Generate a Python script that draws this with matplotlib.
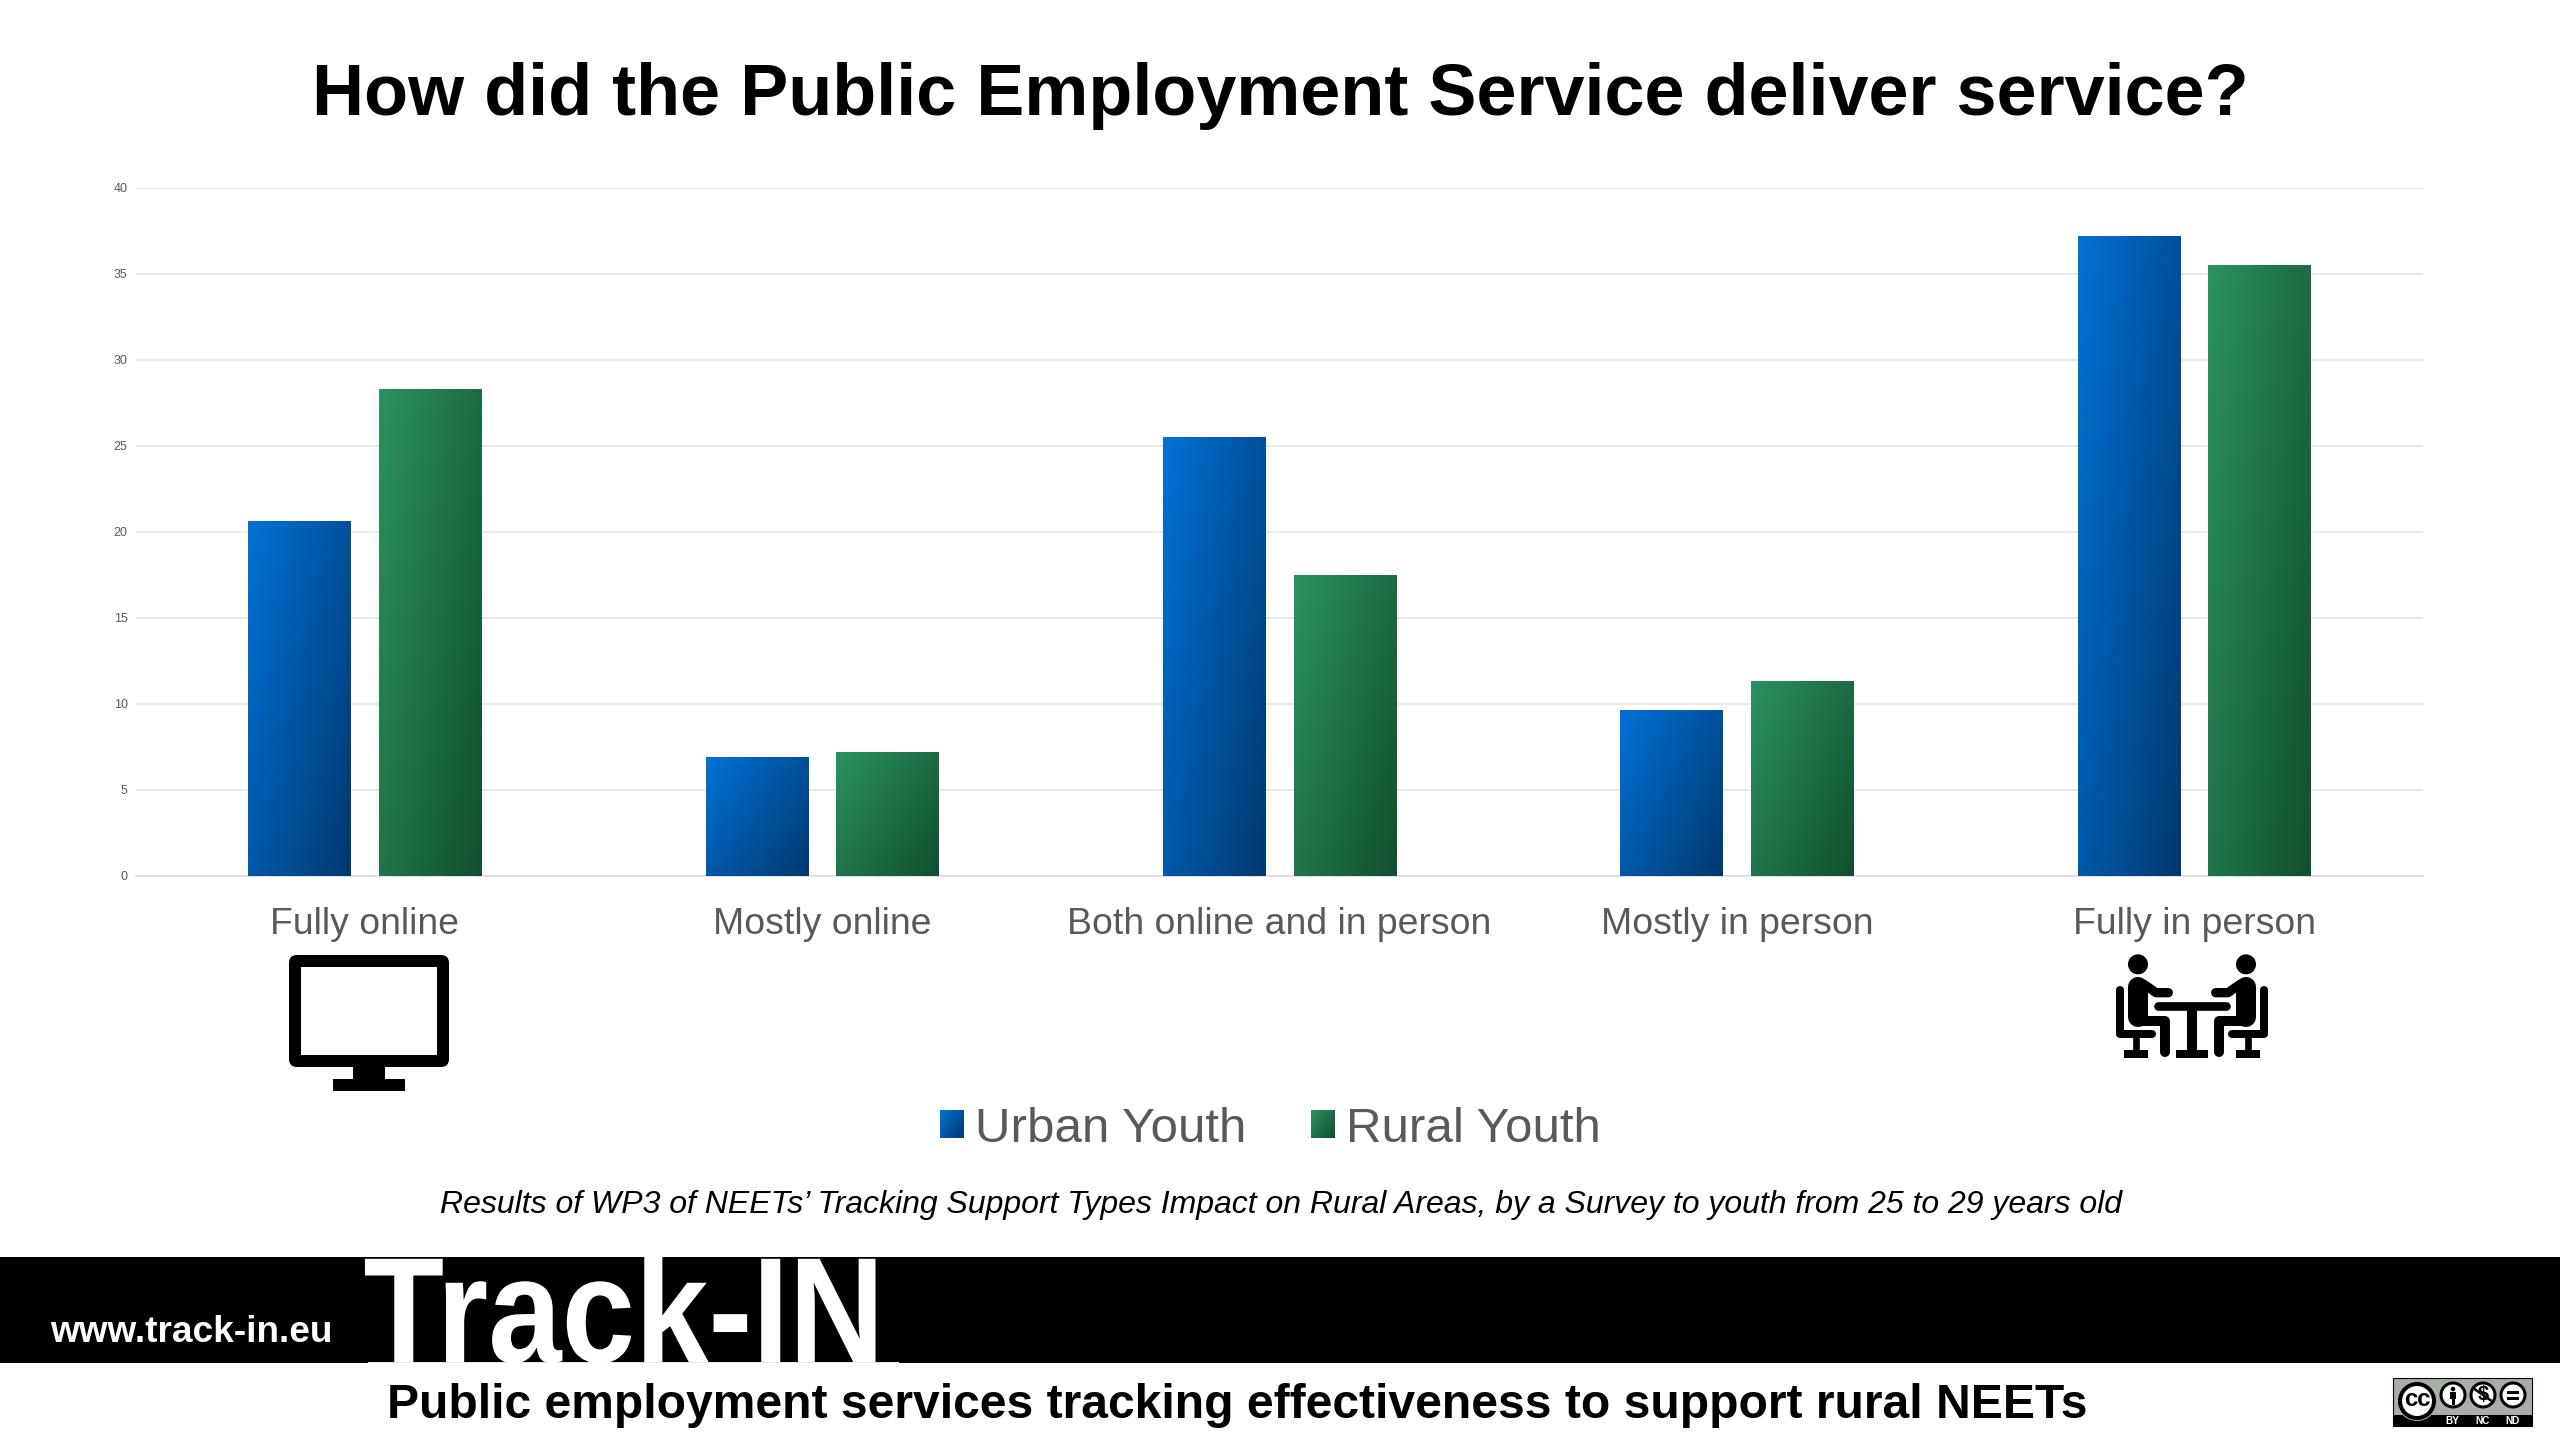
import matplotlib
matplotlib.use("Agg")
import matplotlib.pyplot as plt
import numpy as np
from matplotlib.colors import to_rgb
from matplotlib.legend_handler import HandlerBase
from matplotlib.patches import Rectangle, Circle, FancyBboxPatch, Patch
from matplotlib.patheffects import AbstractPathEffect
from matplotlib.transforms import Affine2D

categories = ["Fully online", "Mostly online", "Both online and in person", "Mostly in person", "Fully in person"]
urban = [20.65, 6.9, 25.5, 9.65, 37.2]
rural = [28.3, 7.2, 17.5, 11.35, 35.5]
series_names = ["Urban Youth", "Rural Youth"]
yticks = [0, 5, 10, 15, 20, 25, 30, 35, 40]
title = "How did the Public Employment Service deliver service?"
subtitle = "Results of WP3 of NEETs’ Tracking Support Types Impact on Rural Areas, by a Survey to youth from 25 to 29 years old"
website = "www.track-in.eu"
logo = "Track-IN"
tagline = "Public employment services tracking effectiveness to support rural NEETs"

W, H = 2560, 1440
BLUE = ("#0072D6", "#00386F")
GREEN = ("#2A9160", "#124F30")
GREY = "#595959"
plt.rcParams["font.family"] = ["Liberation Sans", "DejaVu Sans"]
px = lambda v: v * 0.72

fig = plt.figure(figsize=(W / 100, H / 100), dpi=100, facecolor="white")
ax = fig.add_axes([136 / W, 1 - 876 / H, (2423 - 136) / W, (876 - 188) / H])


def gradient(c0, c1, n=64):
    a, b = np.array(to_rgb(c0)), np.array(to_rgb(c1))
    x, y = np.meshgrid(np.linspace(0, 1, n), np.linspace(0, 1, n))
    t = ((x * 1.35 + y) / 2.35)[..., None]
    return a + (b - a) * t


def gradient_bars(xs, vals, width, cols):
    for bar in ax.bar(xs, vals, width, color=cols[0], zorder=2):
        b = bar.get_bbox()
        im = ax.imshow(gradient(*cols), extent=[b.x0, b.x1, b.y0, b.y1], origin="upper",
                       aspect="auto", zorder=3, interpolation="bilinear")
        im.set_clip_path(bar)


x = np.arange(len(categories))
bw = 103 / 457.4
gradient_bars(x - 65 / 457.4, urban, bw, BLUE)
gradient_bars(x + 65.5 / 457.4, rural, bw, GREEN)
ax.set_xlim(-0.5, 4.5)
ax.set_ylim(0, 40)

ax.set_yticks(yticks)
ax.set_xticks(x)
ax.set_xticklabels(categories, fontsize=px(37.4), color=GREY)
ax.tick_params(axis="x", length=0, pad=22)
ax.tick_params(axis="y", length=0, pad=6, labelsize=px(12.5), labelcolor=GREY)
ax.grid(axis="y", color="#E3E3E3", lw=1.1, zorder=0)
ax.set_axisbelow(True)
for s in ["top", "right", "left"]:
    ax.spines[s].set_visible(False)
ax.spines["bottom"].set_color("#D9D9D9")
ax.spines["bottom"].set_linewidth(1.1)


class GradHandler(HandlerBase):
    def __init__(self, cols):
        super().__init__()
        self.cols = cols

    def create_artists(self, legend, orig, xd, yd, width, height, fontsize, trans):
        n = 12
        g = gradient(*self.cols, n=n)
        out = []
        for i in range(n):
            for j in range(n):
                out.append(Rectangle((-xd + width * j / n, -yd + height * (n - 1 - i) / n),
                                     width / n + 0.2, height / n + 0.2, fc=g[i, j], ec="none",
                                     transform=trans, antialiased=False))
        return out


h = [Patch(label=series_names[0]), Patch(label=series_names[1])]
leg = fig.legend(handles=h, handler_map={h[0]: GradHandler(BLUE), h[1]: GradHandler(GREEN)},
                 loc="center", bbox_to_anchor=(1270.5 / W, 1 - 1129 / H), ncol=2, frameon=False,
                 prop={"size": px(49.3)}, labelcolor=GREY, handlelength=0.487, handleheight=0.487,
                 handletextpad=0.23, columnspacing=1.3, borderpad=0)

# full-figure overlay in pixel coordinates for the slide furniture
ov = fig.add_axes([0, 0, 1, 1], zorder=5)
ov.set_xlim(0, W)
ov.set_ylim(H, 0)
ov.axis("off")
ov.patch.set_alpha(0)

ov.text(1280, 96, title, ha="center", va="center", fontsize=px(72), fontweight="bold", color="black")
ov.text(1281, 1205, subtitle, ha="center", va="center", fontsize=px(32), style="italic", color="black")


class Squeeze(AbstractPathEffect):
    """Condense a text horizontally about a display x position."""

    def __init__(self, sx, x0):
        super().__init__()
        self.sx, self.x0 = sx, x0

    def draw_path(self, renderer, gc, tpath, affine, rgbFace=None):
        squeeze = Affine2D().translate(-self.x0, 0).scale(self.sx, 1).translate(self.x0, 0)
        renderer.draw_path(gc, tpath, affine + squeeze, rgbFace)


# black band and logo
ov.add_patch(Rectangle((0, 1257), W, 106, fc="black", ec="none"))
ov.add_patch(Rectangle((368, 1361.5), 531, 1.5, fc="#E8E8E8", ec="none"))
t = ov.text(624, 1362, logo, ha="center", va="baseline", fontsize=px(150), fontweight="bold", color="white")
t.set_clip_path(Rectangle((340, 1257), 600, 106, transform=ov.transData))
t.set_path_effects([Squeeze(0.88, 624)])
ov.text(191, 1332, website, ha="center", va="center", fontsize=px(37), fontweight="bold", color="white")
ov.text(1237, 1406, tagline, ha="center", va="center", fontsize=px(48), fontweight="bold", color="black")

# monitor icon
ov.add_patch(FancyBboxPatch((297, 963), 144, 96, boxstyle="round,pad=8,rounding_size=8", fc="black", ec="none"))
ov.add_patch(Rectangle((301, 967), 136, 88, fc="white", ec="none"))
ov.add_patch(Rectangle((353, 1067), 32, 12, fc="black", ec="none"))
ov.add_patch(Rectangle((333, 1079), 72, 12, fc="black", ec="none"))


# meeting icon, drawn in units of a 3x crop
def P(a, b):
    return 2080 + a / 3, 940 + b / 3


def stroke(pts, w, cap="round"):
    xs, ys = zip(*[P(*q) for q in pts])
    ov.plot(xs, ys, color="black", lw=px(w / 3), solid_capstyle=cap, solid_joinstyle="round")


for m in (lambda v: v, lambda v: 672 - v):
    ov.add_patch(Circle(P(m(174), 73), 10, fc="black", ec="none"))
    stroke([(m(120), 150), (m(120), 282), (m(215), 282)], 24)
    stroke([(m(168), 290), (m(168), 335)], 20, "butt")
    x0, y0 = P(min(m(132), m(204)), 330)
    ov.add_patch(Rectangle((x0, y0), 24, 8, fc="black", ec="none"))
    stroke([(m(175), 140), (m(175), 230)], 60)
    stroke([(m(190), 132), (m(228), 158), (m(265), 158)], 28)
    stroke([(m(175), 243), (m(255), 243), (m(255), 335)], 30)
stroke([(235, 198), (437, 198)], 26)
stroke([(336, 198), (336, 335)], 30, "butt")
x0, y0 = P(288, 330)
ov.add_patch(Rectangle((x0, y0), 32, 8, fc="black", ec="none"))

# licence badge
ov.add_patch(Rectangle((2393, 1378), 139, 48, fc="#A6AEA6", ec="black", lw=0.8))
ov.add_patch(Rectangle((2393, 1415), 139, 11, fc="black", ec="none"))
ov.add_patch(Circle((2417, 1401), 20, fc="#A6AEA6", ec="none"))
ov.add_patch(Circle((2417, 1401), 17, fc="white", ec="black", lw=px(4)))
ov.text(2417, 1400, "cc", ha="center", va="center", fontsize=px(24), fontweight="bold", color="black")
for cx in (2453, 2483, 2513):
    ov.add_patch(Circle((cx, 1395), 12, fc="white", ec="black", lw=px(3)))
ov.add_patch(Circle((2453, 1389), 2.3, fc="black", ec="none"))
ov.add_patch(Rectangle((2450, 1392), 6, 7, fc="black", ec="none"))
ov.add_patch(Rectangle((2451.5, 1399), 3, 6, fc="black", ec="none"))
ov.text(2483, 1395, "$", ha="center", va="center", fontsize=px(20), fontweight="bold", color="black")
ov.plot([2473, 2493], [1388, 1402], color="black", lw=px(2.5))
ov.add_patch(Rectangle((2507, 1390.5), 12, 3, fc="black", ec="none"))
ov.add_patch(Rectangle((2507, 1396.5), 12, 3, fc="black", ec="none"))
for cx, s in zip((2452, 2482, 2513), ("BY", "NC", "ND")):
    ov.text(cx, 1420.5, s, ha="center", va="center", fontsize=px(10), fontweight="bold", color="white")

fig.savefig("out.png", dpi=100, facecolor="white")
